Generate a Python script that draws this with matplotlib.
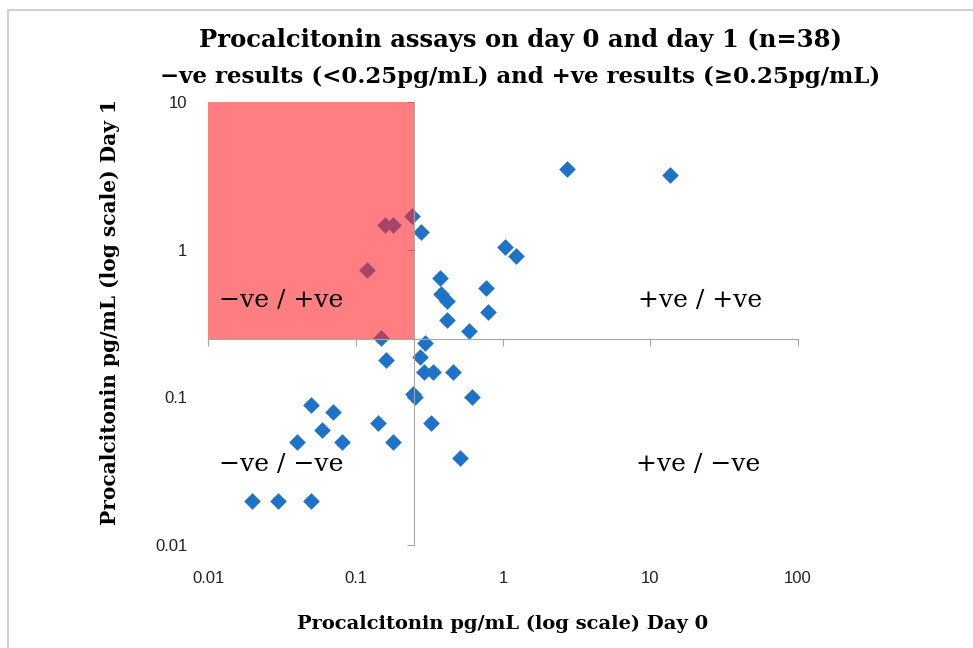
import numpy as np
import matplotlib
matplotlib.use("Agg")
import matplotlib.pyplot as plt
from matplotlib.patches import Rectangle

# day 0 / day 1 procalcitonin readings (pg/mL)
day0 = [2.7, 13.5, 0.24, 0.28, 0.158, 0.18, 0.12, 0.15, 1.03, 1.22,
        0.77, 0.79, 0.374, 0.38, 0.42, 0.417, 0.59, 0.296, 0.161, 0.274,
        0.291, 0.335, 0.458, 0.245, 0.255, 0.616, 0.325, 0.51, 0.142, 0.18,
        0.05, 0.07, 0.059, 0.04, 0.081, 0.02, 0.03, 0.05]
day1 = [3.5, 3.2, 1.7, 1.32, 1.48, 1.48, 0.73, 0.253, 1.05, 0.90,
        0.55, 0.38, 0.64, 0.5, 0.45, 0.335, 0.28, 0.234, 0.18, 0.188,
        0.149, 0.149, 0.149, 0.106, 0.1, 0.1, 0.067, 0.039, 0.067, 0.05,
        0.089, 0.079, 0.06, 0.05, 0.05, 0.02, 0.02, 0.02]

cutoff = 0.25
xticks = [0.01, 0.1, 1, 10, 100]
yticks = [0.01, 0.1, 1, 10]
xticklabels = ["0.01", "0.1", "1", "10", "100"]
yticklabels = ["0.01", "0.1", "1", "10"]

title1 = "Procalcitonin assays on day 0 and day 1 (n=38)"
title2 = "\u2212ve results (<0.25pg/mL) and +ve results (\u22650.25pg/mL)"

serif = "DejaVu Serif"
sans = "Liberation Sans"
grey = "#a6a6a6"

fig = plt.figure(figsize=(9.73, 6.48), dpi=100)
# outer chart border
fig.patches.append(Rectangle((0.008, -0.05), 1.5, 1.035, transform=fig.transFigure,
                             fill=False, edgecolor="#c8c8c8", lw=1.2))

ax = fig.add_axes([0.2138, 0.159, 0.6063, 0.6836])
ax.set_xscale("log")
ax.set_yscale("log")
ax.set_xlim(0.01, 100)
ax.set_ylim(0.01, 10)

ax.scatter(day0, day1, marker="D", s=72, color="#1e73c8", linewidths=0, zorder=2)

# shaded -ve / +ve quadrant, drawn over the markers
ax.add_patch(Rectangle((0.01, cutoff), cutoff - 0.01, 10 - cutoff,
                       facecolor="#ff282d", alpha=0.6, edgecolor="none", zorder=3))

# axes cross at the cutoff
for s in ["top", "right"]:
    ax.spines[s].set_visible(False)
ax.spines["left"].set_position(("data", cutoff))
ax.spines["bottom"].set_position(("data", cutoff))
ax.spines["left"].set_color(grey)
ax.spines["bottom"].set_color(grey)
ax.spines["left"].set_zorder(4)
ax.spines["bottom"].set_zorder(4)
ax.set_xticks(xticks)
ax.set_yticks(yticks)
ax.minorticks_off()
ax.tick_params(axis="both", direction="out", length=5, color=grey,
               labelleft=False, labelbottom=False)

# tick labels pinned to the outer edges
sx = ax.secondary_xaxis("bottom")
sx.set_xticks(xticks, xticklabels)
sx.minorticks_off()
sx.tick_params(length=0, pad=19, labelsize=12, labelcolor="#222222")
sx.spines["bottom"].set_visible(False)
sy = ax.secondary_yaxis("left")
sy.set_yticks(yticks, yticklabels)
sy.minorticks_off()
sy.tick_params(length=0, pad=15, labelsize=12, labelcolor="#222222")
sy.spines["left"].set_visible(False)
for lab in sx.get_xticklabels() + sy.get_yticklabels():
    lab.set_family(sans)

ax.set_xlabel("Procalcitonin pg/mL (log scale) Day 0", family=serif,
              fontweight="bold", fontsize=14, labelpad=0)
ax.xaxis.set_label_coords(0.5, -0.158)
ax.set_ylabel("Procalcitonin pg/mL (log scale) Day 1", family=serif,
              fontweight="bold", fontsize=14.5)
ax.yaxis.set_label_coords(-0.15, 0.526)

quad = dict(family=serif, fontsize=18, ha="center", va="center",
            transform=ax.transAxes, zorder=5)
ax.text(0.124, 0.553, "\u2212ve / +ve", **quad)
ax.text(0.834, 0.553, "+ve / +ve", **quad)
ax.text(0.124, 0.181, "\u2212ve / \u2212ve", **quad)
ax.text(0.83, 0.181, "+ve / \u2212ve", **quad)

fig.text(0.535, 0.938, title1, family=serif, fontweight="bold",
         fontsize=17.5, ha="center", va="center")
fig.text(0.535, 0.881, title2, family=serif, fontweight="bold",
         fontsize=16.5, ha="center", va="center")

fig.savefig("out.png", dpi=100)
